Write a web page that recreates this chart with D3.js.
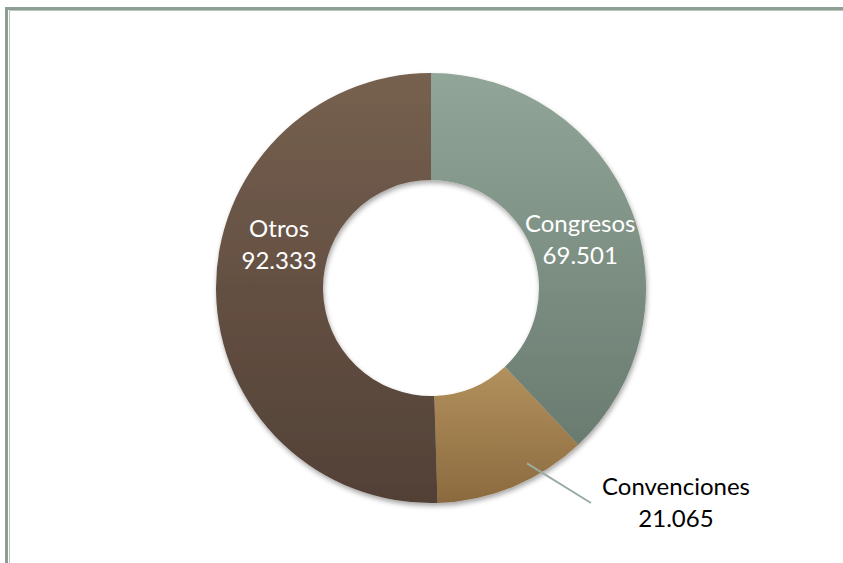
<!DOCTYPE html>
<html>
<head>
<meta charset="utf-8">
<script src="https://cdn.jsdelivr.net/npm/d3@7"></script>
<style>
  html, body { margin: 0; padding: 0; background: #fff; }
  svg { display: block; }
</style>
</head>
<body>
<svg id="chart" width="843" height="563"></svg>
<script>
// Categories and values (miles de asistentes)
const categories = ["Congresos", "Convenciones", "Otros"];
const values = [69.501, 21.065, 92.333];
const valueLabels = ["69.501", "21.065", "92.333"];

// Slice fills: top / bottom gradient stops
const topColors = ["#91a598", "#b3915d", "#76604f"];
const bottomColors = ["#6a7b70", "#8b6a3f", "#524036"];

const W = 843, H = 563;
const cx = 431, cy = 288;
const outerR = 215, innerR = 108;

const svg = d3.select("#chart");
const defs = svg.append("defs");

categories.forEach((c, i) => {
  const g = defs.append("linearGradient")
    .attr("id", "grad" + i)
    .attr("x1", 0).attr("y1", 0).attr("x2", 0).attr("y2", 1);
  g.append("stop").attr("offset", "0%").attr("stop-color", topColors[i]);
  g.append("stop").attr("offset", "100%").attr("stop-color", bottomColors[i]);
});

const shadow = defs.append("filter").attr("id", "shadow")
  .attr("x", "-10%").attr("y", "-10%").attr("width", "120%").attr("height", "120%");
shadow.append("feDropShadow")
  .attr("dx", 1).attr("dy", 3).attr("stdDeviation", 2.5)
  .attr("flood-color", "#000").attr("flood-opacity", 0.35);

// Frame
svg.append("rect")
  .attr("x", 6.5).attr("y", 8.5).attr("width", W + 20).attr("height", H + 20)
  .attr("fill", "none").attr("stroke", "#8e9e93").attr("stroke-width", 3);
svg.append("rect")
  .attr("x", 9.5).attr("y", 10.5).attr("width", W + 20).attr("height", H + 20)
  .attr("fill", "none").attr("stroke", "#b9c6bd").attr("stroke-width", 1);

const data = categories.map((c, i) => ({ name: c, value: values[i], label: valueLabels[i], i }));

const pie = d3.pie().value(d => d.value).sort(null);
const arcs = pie(data);
const arc = d3.arc().innerRadius(innerR).outerRadius(outerR);

const g = svg.append("g").attr("transform", `translate(${cx},${cy})`);

g.append("g").attr("filter", "url(#shadow)")
  .selectAll("path")
  .data(arcs)
  .join("path")
  .attr("d", arc)
  .attr("fill", d => `url(#grad${d.data.i})`);

const fontFamily = "Lato, 'Open Sans', sans-serif";
const fs = 24;

// Polar helper: angle in degrees clockwise from 12 o'clock
function polar(angleDeg, r) {
  const a = angleDeg * Math.PI / 180;
  return [r * Math.sin(a), -r * Math.cos(a)];
}

// Inside labels, placed in the ring toward the upper part of each slice
const inside = [
  { idx: 0, ang: 70.8, r: 158 },
  { idx: 2, ang: 287.2, r: 159 }
];
inside.forEach(p => {
  const d = arcs[p.idx];
  const [x, y] = polar(p.ang, p.r);
  const t = g.append("text")
    .attr("x", x).attr("y", y)
    .attr("text-anchor", "middle")
    .attr("font-family", fontFamily)
    .attr("font-size", fs)
    .attr("fill", "#ffffff");
  t.append("tspan").attr("x", x).attr("dy", -4).text(d.data.name);
  t.append("tspan").attr("x", x).attr("dy", 32).text(d.data.label);
});

// Outside label with leader line for the small slice
{
  const d = arcs[1];
  const [x0, y0] = polar(151.3, 200);
  const [x1, y1] = polar(143.35, 268);
  g.append("line")
    .attr("x1", x0).attr("y1", y0).attr("x2", x1).attr("y2", y1)
    .attr("stroke", "#9aaba0").attr("stroke-width", 2);
  const lx = 245, ly = 207;
  const t = g.append("text")
    .attr("x", lx).attr("y", ly)
    .attr("text-anchor", "middle")
    .attr("font-family", fontFamily)
    .attr("font-size", fs)
    .attr("fill", "#000000");
  t.append("tspan").attr("x", lx).attr("dy", 0).text(d.data.name);
  t.append("tspan").attr("x", lx).attr("dy", 32).text(d.data.label);
}
</script>
</body>
</html>
